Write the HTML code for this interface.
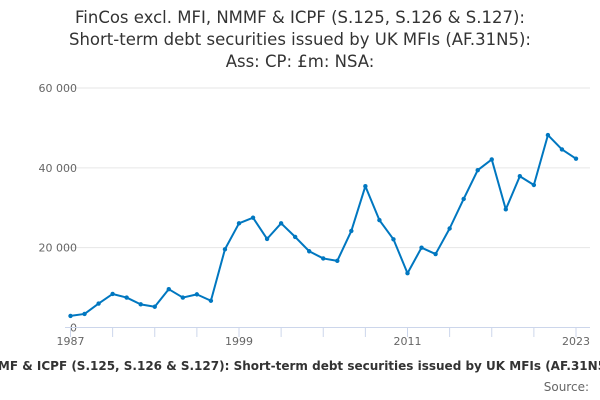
<!DOCTYPE html>
<html><head><meta charset="utf-8"><style>
body{margin:0;width:600px;height:400px;background:#fff;overflow:hidden;font-family:"DejaVu Sans","Liberation Sans",sans-serif;position:relative;}
.t{position:absolute;left:0;width:600px;text-align:center;font-size:16.5px;color:#333;line-height:22px;}
</style></head><body>
<div class="t" style="top:7px">FinCos excl. MFI, NMMF &amp; ICPF (S.125, S.126 &amp; S.127):<br>Short-term debt securities issued by UK MFIs (AF.31N5):<br>Ass: CP: £m: NSA:</div>
<svg id="c" width="600" height="400" style="position:absolute;left:0;top:0"></svg>
<div style="position:absolute;top:359px;left:0;width:600px;height:18px;overflow:hidden">
<div style="position:absolute;top:0;left:300px;transform:translateX(-50%);white-space:nowrap;font-size:12px;font-weight:bold;color:#333">FinCos excl. MFI, NMMF &amp; ICPF (S.125, S.126 &amp; S.127): Short-term debt securities issued by UK MFIs (AF.31N5): Ass: CP: £m: NSA:</div>
</div>
<div style="position:absolute;top:380px;right:11px;font-size:12px;color:#666">Source:</div>
<script>
const years=[1987,1988,1989,1990,1991,1992,1993,1994,1995,1996,1997,1998,1999,2000,2001,2002,2003,2004,2005,2006,2007,2008,2009,2010,2011,2012,2013,2014,2015,2016,2017,2018,2019,2020,2021,2022,2023];
const values=[2900,3400,6000,8400,7500,5800,5200,9600,7500,8300,6700,19600,26100,27500,22200,26100,22700,19100,17300,16700,24200,35400,26900,22100,13600,20000,18400,24800,32200,39400,42100,29600,37900,35700,48200,44600,42300];
const yTicks=[0,20000,40000,60000];
const yLabels=["0","20 000","40 000","60 000"];
const xLabels=[1987,1999,2011,2023];
const NS="http://www.w3.org/2000/svg",svg=document.getElementById('c');
const X=y=>70.5+(y-1987)*(576-70.5)/36, Y=v=>327.5-v*(327.5-88)/60000;
function mk(t,a,p){const e=document.createElementNS(NS,t);for(const k in a)e.setAttribute(k,a[k]);(p||svg).appendChild(e);return e;}
yTicks.forEach((v,i)=>{
 if(v>0){const g=mk('line',{x1:65,x2:590,y1:Y(v),y2:Y(v),stroke:'#e6e6e6'});
 
 }
 const t=mk('text',{x:77,y:Y(v)+4,'text-anchor':'end','font-size':11,fill:'#666'});t.textContent=yLabels[i];
 
 
});
const ax=mk('line',{x1:65,x2:590,y1:327.5,y2:327.5,stroke:'#ccd6eb'});


for(let y=1987;y<=2023;y+=3){const tk=mk('line',{x1:X(y),x2:X(y),y1:327.5,y2:337,stroke:'#ccd6eb'});
 
 }
xLabels.forEach(y=>{const t=mk('text',{x:X(y),y:345,'text-anchor':'middle','font-size':11,fill:'#666'});t.textContent=y;
 
 });
const pl=mk('polyline',{points:years.map((y,i)=>X(y)+','+Y(values[i])).join(' '),fill:'none',stroke:'#0077c0','stroke-width':2,'stroke-linejoin':'round'});


years.forEach((y,i)=>{const c=mk('circle',{cx:X(y),cy:Y(values[i]),r:2.2,fill:'#0077c0'});
 
 });
</script>
</body></html>
